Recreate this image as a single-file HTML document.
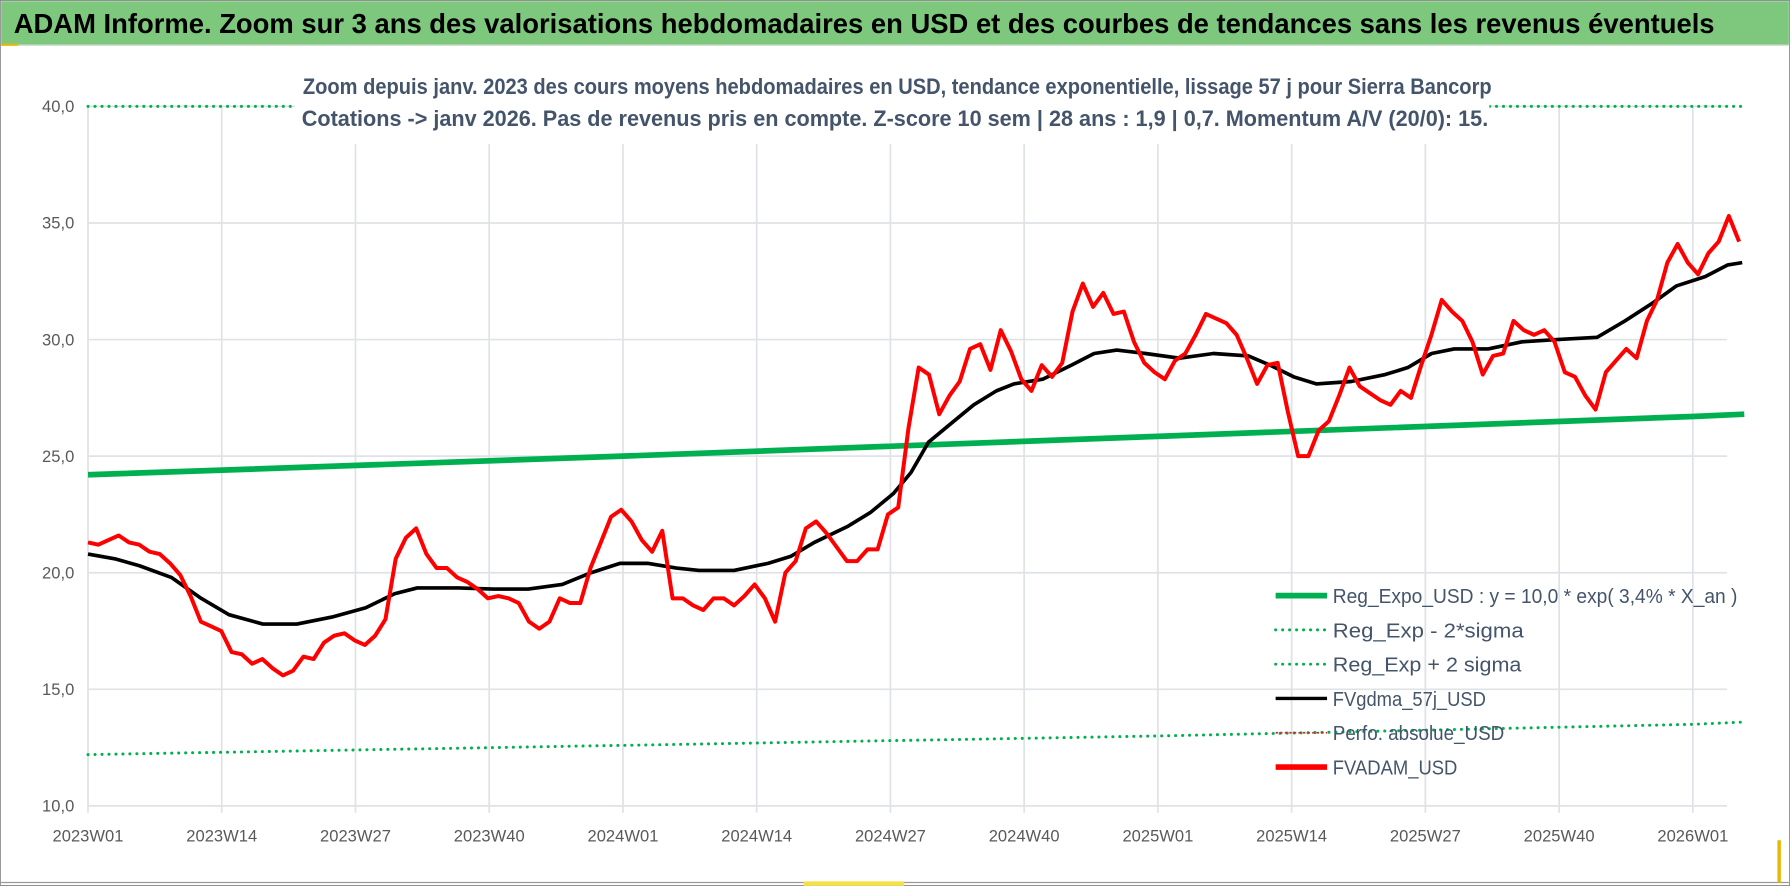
<!DOCTYPE html>
<html><head><meta charset="utf-8"><style>
html,body{margin:0;padding:0;background:#fff;}
svg{display:block;}
</style></head><body>
<svg id="chart" width="1790" height="886" viewBox="0 0 1566 775" xmlns="http://www.w3.org/2000/svg" font-family="'Liberation Sans Narrow','Liberation Sans',sans-serif">
<rect x="0" y="0" width="1566" height="775" fill="#fff" stroke="#888" stroke-width="1.5"/>
<rect x="1" y="1" width="1564" height="38" fill="#7ec87e"/>
<line x1="1" y1="39.5" x2="1565" y2="39.5" stroke="#c8d8c8" stroke-width="1"/>
<rect x="1" y="38" width="15" height="2" fill="#e8b800"/>
<text x="12" y="29" font-size="24" font-weight="bold" fill="#000" textLength="1488" lengthAdjust="spacingAndGlyphs">ADAM Informe. Zoom sur 3 ans des valorisations hebdomadaires en USD et des courbes de tendances sans les revenus éventuels</text>
<line x1="1" y1="772" x2="1565" y2="772" stroke="#999" stroke-width="1"/>
<rect x="703" y="771" width="88" height="4" fill="#f4e04a"/>
<rect x="1555" y="735" width="3" height="37" fill="#e8b800"/>
<g id="grid"></g>
<g id="series"></g>
<rect x="258" y="60" width="1045" height="66" fill="#fff"/>
<text x="785" y="82" font-size="19.5" font-weight="bold" fill="#44546a" text-anchor="middle" textLength="1040" lengthAdjust="spacingAndGlyphs">Zoom depuis janv. 2023 des cours moyens hebdomadaires en USD, tendance exponentielle, lissage 57 j pour Sierra Bancorp</text>
<text x="783" y="110" font-size="19.5" font-weight="bold" fill="#44546a" text-anchor="middle" textLength="1038" lengthAdjust="spacingAndGlyphs">Cotations -&gt; janv 2026. Pas de revenus pris en compte. Z-score 10 sem | 28 ans : 1,9 | 0,7. Momentum A/V (20/0): 15.</text>
<g id="axes"></g>
<g id="legend"></g>
</svg>
<script>
// ---- data ----
const yTicks = [10, 15, 20, 25, 30, 35, 40];
const yTickLabels = ["10,0", "15,0", "20,0", "25,0", "30,0", "35,0", "40,0"];
const xTickWeeks = [0, 13, 26, 39, 52, 65, 78, 91, 104, 117, 130, 143, 156];
const xTickLabels = ["2023W01","2023W14","2023W27","2023W40","2024W01","2024W14","2024W27","2024W40","2025W01","2025W14","2025W27","2025W40","2026W01"];
const adamValues = [21.3,21.2,21.4,21.6,21.3,21.2,20.9,20.8,20.4,19.9,19.0,17.9,17.7,17.5,16.6,16.5,16.1,16.3,15.9,15.6,15.8,16.4,16.3,17.0,17.3,17.4,17.1,16.9,17.3,18.0,20.6,21.5,21.9,20.8,20.2,20.2,19.8,19.6,19.3,18.9,19.0,18.9,18.7,17.9,17.6,17.9,18.9,18.7,18.7,20.2,21.3,22.4,22.7,22.2,21.4,20.9,21.8,18.9,18.9,18.6,18.4,18.9,18.9,18.6,19.0,19.5,18.9,17.9,20.0,20.5,21.9,22.2,21.7,21.1,20.5,20.5,21.0,21.0,22.5,22.8,26.2,28.8,28.5,26.8,27.6,28.2,29.6,29.8,28.7,30.4,29.5,28.3,27.8,28.9,28.4,29.0,31.2,32.4,31.4,32.0,31.1,31.2,29.9,29.0,28.6,28.3,29.1,29.4,30.2,31.1,30.9,30.7,30.2,29.2,28.1,28.9,29.0,26.9,25.0,25.0,26.1,26.5,27.6,28.8,28.0,27.7,27.4,27.2,27.8,27.5,28.9,30.2,31.7,31.2,30.8,29.9,28.5,29.3,29.4,30.8,30.4,30.2,30.4,29.9,28.6,28.4,27.6,27.0,28.6,29.1,29.6,29.2,30.8,31.7,33.3,34.1,33.3,32.8,33.7,34.2,35.3,34.2];
const gdmaWeeks = [0,2.6,5,8.1,11,13.7,17,20.3,23.7,27,29.8,32,36,39.4,42.8,46.1,48.9,51.7,54.4,57.2,59.4,62.8,66.1,68.3,70.6,73.9,76.1,78.3,80,81.7,83.9,86.1,88.3,90,92.8,95.6,97.8,100,102.8,106.1,109.4,112.8,114.9,117.2,119.4,122.8,126.1,128.3,130.6,132.8,136.1,139.4,142.8,146.7,149.4,152.2,154.4,157.2,159.4,160.8];
const gdmaValues = [20.8,20.6,20.3,19.8,18.9,18.2,17.8,17.8,18.1,18.5,19.1,19.35,19.35,19.3,19.3,19.5,20.0,20.4,20.4,20.2,20.1,20.1,20.4,20.7,21.3,22.0,22.6,23.4,24.3,25.6,26.4,27.2,27.8,28.1,28.3,28.9,29.4,29.55,29.4,29.2,29.4,29.3,28.9,28.4,28.1,28.2,28.5,28.8,29.4,29.6,29.6,29.9,30.0,30.1,30.8,31.6,32.3,32.7,33.2,33.3];
const regWeeks = [0, 52, 104, 156, 161];
const regValues = [24.2, 25.0, 25.85, 26.7, 26.8];
const lowValues = [12.2, 12.6, 13.0, 13.5, 13.6];
const upValues = [40.0, 40.0, 40.0, 40.0, 40.0];

// ---- layout ----
const X0 = 77, PX_PER_WEEK = 9, Y_TOP = 93, Y_BOT = 705, VMIN = 10, VMAX = 40, PLOT_RIGHT = 1511;
const xs = w => X0 + w * PX_PER_WEEK;
const ys = v => Y_BOT - (v - VMIN) / (VMAX - VMIN) * (Y_BOT - Y_TOP);
const NS = "http://www.w3.org/2000/svg";
function mk(tag, attrs, parent) {
  const e = document.createElementNS(NS, tag);
  for (const k in attrs) e.setAttribute(k, attrs[k]);
  parent.appendChild(e);
  return e;
}
const grid = document.getElementById('grid');
const axes = document.getElementById('axes');
const series = document.getElementById('series');
const legend = document.getElementById('legend');

yTicks.forEach((v, i) => {
  const gl = mk('line', {x1: X0, x2: PLOT_RIGHT, y1: ys(v), y2: ys(v), stroke: '#dfe2e6', 'stroke-width': 1.5}, grid);
  
  
  const t = mk('text', {x: 65, y: ys(v) + 5, 'font-size': 14.5, fill: '#595959', 'text-anchor': 'end'}, axes);
  t.textContent = yTickLabels[i];
  
  
});
xTickWeeks.forEach((w, i) => {
  const gl = mk('line', {x1: xs(w), x2: xs(w), y1: Y_TOP, y2: Y_BOT + 6, stroke: '#dfe2e6', 'stroke-width': 1.5}, grid);
  
  
  const t = mk('text', {x: xs(w), y: 736, 'font-size': 14.5, fill: '#595959', 'text-anchor': 'middle'}, axes);
  t.textContent = xTickLabels[i];
  
  
});

function poly(weeks, vals, style, name) {
  const pts = vals.map((v, i) => xs(weeks[i]).toFixed(1) + ',' + ys(v).toFixed(1)).join(' ');
  const p = mk('polyline', Object.assign({points: pts, fill: 'none', 'stroke-linejoin': 'round'}, style), series);
  
  
}
const dotted = {stroke: '#00b050', 'stroke-width': 2.6, 'stroke-dasharray': '0.1 6', 'stroke-linecap': 'round'};
poly(regWeeks, upValues, dotted, 'upper-sigma-line');
poly(regWeeks, lowValues, dotted, 'lower-sigma-line');
poly(regWeeks, regValues, {stroke: '#00b050', 'stroke-width': 5}, 'reg-expo-line');
poly(gdmaWeeks, gdmaValues, {stroke: '#000', 'stroke-width': 3.2}, 'fvgdma-line');
const adamSpan = 160.5 / (adamValues.length - 1);
poly(adamValues.map((v, i) => i * adamSpan), adamValues, {stroke: '#ff0000', 'stroke-width': 3.5}, 'fvadam-line');

const legItems = [
  {label: 'Reg_Expo_USD : y = 10,0 * exp( 3,4% *  X_an )', tl: 354, style: {stroke: '#00b050', 'stroke-width': 5}},
  {label: 'Reg_Exp - 2*sigma', tl: 167, style: dotted},
  {label: 'Reg_Exp + 2 sigma', tl: 165, style: dotted},
  {label: 'FVgdma_57j_USD', tl: 134, style: {stroke: '#000', 'stroke-width': 3}},
  {label: 'Perfo. absolue_USD', tl: 150, style: {stroke: '#e02020', 'stroke-width': 1.5, 'stroke-dasharray': '2 2'}},
  {label: 'FVADAM_USD', tl: 109, style: {stroke: '#ff0000', 'stroke-width': 5}}
];
legItems.forEach((it, i) => {
  const y = 521 + i * 30;
  const l = mk('line', Object.assign({x1: 1116, x2: 1161, y1: y, y2: y}, it.style), legend);
  
  
  const t = mk('text', {x: 1166, y: y + 6.5, 'font-size': 18, fill: '#44546a', textLength: it.tl, lengthAdjust: 'spacingAndGlyphs'}, legend);
  t.textContent = it.label;
  
  
});
</script>
</body></html>
